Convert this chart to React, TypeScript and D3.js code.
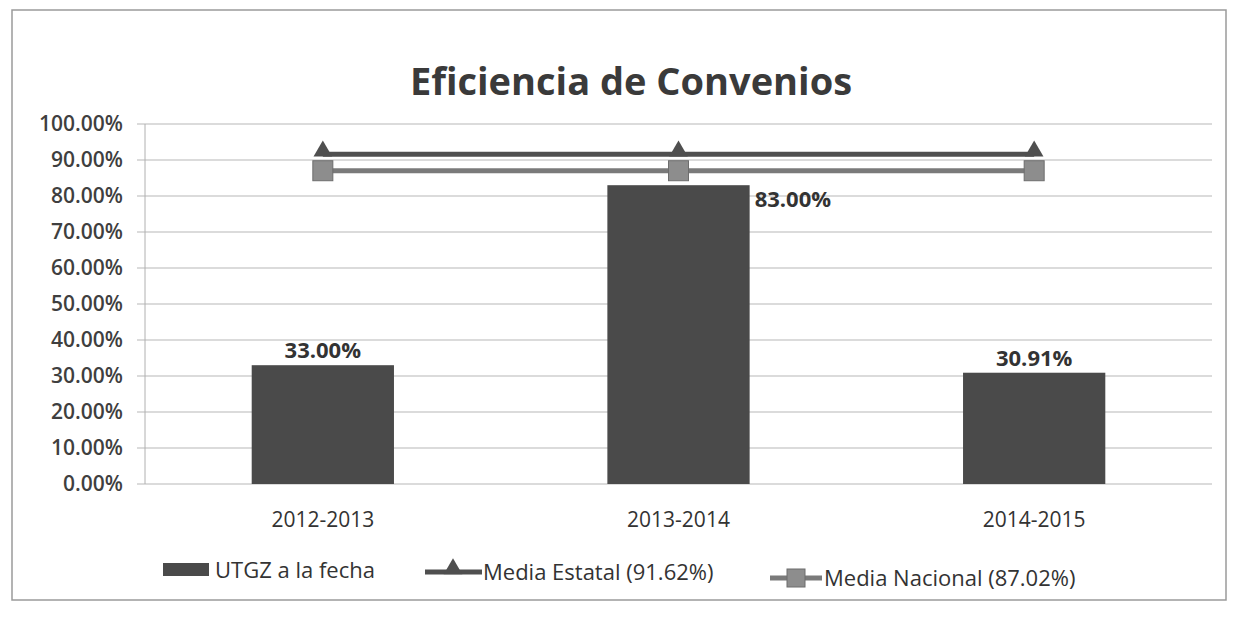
import React from "react";
import * as d3 from "d3";

const categories = ["2012-2013", "2013-2014", "2014-2015"];
const utgz = [33.0, 83.0, 30.91];
const mediaEstatal = [91.62, 91.62, 91.62];
const mediaNacional = [87.02, 87.02, 87.02];
const yTicks = [0, 10, 20, 30, 40, 50, 60, 70, 80, 90, 100];
const labelPos = ["top", "right", "top"];

const W = 1237, H = 622;
const M = { left: 145, right: 1212, top: 124, bottom: 484 };
const FONT = "'Open Sans', 'Liberation Sans', sans-serif";

export default function App() {
  const x = d3.scaleBand().domain(categories).range([M.left, M.right]).paddingInner(0.6).paddingOuter(0.3);
  const xc = d3.scalePoint().domain(categories).range([M.left, M.right]).padding(0.5);
  const y = d3.scaleLinear().domain([0, 100]).range([M.bottom, M.top]);
  const line = d3.line<number>().x((_, i) => xc(categories[i])!).y((d) => y(d));
  const fmt = (v: number) => v.toFixed(2) + "%";
  const barColor = "#4a4a4a";
  const estColor = "#4f4f4f";
  const nacColor = "#7a7a7a";
  const nacMarker = "#8d8d8d";
  const tri = d3.symbol().type(d3.symbolTriangle).size(150)();
  return (
    <svg width={W} height={H} style={{ position: "absolute", left: 0, top: 0, background: "#fff" }}>
      <rect x={12} y={10} width={1214} height={590} fill="#fff" stroke="#9a9a9a" strokeWidth={1.5} />
      <text x={631} y={95} textAnchor="middle" fontFamily={FONT} fontWeight={700} fontSize={38} fill="#3a3a3a">
        Eficiencia de Convenios
      </text>
      {yTicks.map((t) => (
        <g key={t}>
          <line x1={M.left - 8} x2={M.right} y1={y(t)} y2={y(t)} stroke="#b8b8b8" strokeWidth={1.2} />
          <text x={M.left - 22} y={y(t)} dy="0.35em" textAnchor="end" fontFamily={FONT} fontWeight={600} fontSize={21} fill="#3f3f3f">
            {fmt(t)}
          </text>
        </g>
      ))}
      <line x1={M.left} x2={M.left} y1={M.top} y2={M.bottom} stroke="#b0b0b0" strokeWidth={1} />
      {categories.map((c, i) => (
        <g key={c}>
          <rect x={x(c)} y={y(utgz[i])} width={x.bandwidth()} height={y(0) - y(utgz[i])} fill={barColor} />
          <text x={xc(c)} y={M.bottom + 36} dy="0.35em" textAnchor="middle" fontFamily={FONT} fontSize={21} fill="#333">{c}</text>
          {labelPos[i] === "top" ? (
            <text x={xc(c)} y={y(utgz[i]) - 7} textAnchor="middle" fontFamily={FONT} fontWeight={700} fontSize={22} fill="#333">{fmt(utgz[i])}</text>
          ) : (
            <text x={x(c)! + x.bandwidth() + 5} y={y(utgz[i]) + 22} textAnchor="start" fontFamily={FONT} fontWeight={700} fontSize={22} fill="#333">{fmt(utgz[i])}</text>
          )}
        </g>
      ))}
      <path d={line(mediaNacional)!} fill="none" stroke={nacColor} strokeWidth={5} />
      {categories.map((c) => (
        <rect key={"n" + c} x={xc(c)! - 10} y={y(mediaNacional[0]) - 10} width={20} height={20} fill={nacMarker} stroke="#6d6d6d" />
      ))}
      <path d={line(mediaEstatal)!} fill="none" stroke={estColor} strokeWidth={5} />
      {categories.map((c, i) => (
        <path key={"e" + c} d={tri!} transform={`translate(${xc(c)},${y(mediaEstatal[i]) - 3})`} fill={estColor} />
      ))}
      {/* legend */}
      <g fontFamily={FONT} fontSize={22} fill="#333">
        <rect x={163} y={563} width={46} height={13} fill={barColor} />
        <text x={215} y={570} dy="0.35em">UTGZ a la fecha</text>
        <line x1={425} x2={482} y1={572} y2={572} stroke={estColor} strokeWidth={5} />
        <path d={tri!} transform="translate(453,569)" fill={estColor} />
        <text x={483} y={572} dy="0.35em">Media Estatal (91.62%)</text>
        <line x1={770} x2={822} y1={578} y2={578} stroke={nacColor} strokeWidth={5} />
        <rect x={787} y={569} width={18} height={18} fill={nacMarker} stroke="#6d6d6d" />
        <text x={824} y={578} dy="0.35em">Media Nacional (87.02%)</text>
      </g>
    </svg>
  );
}
